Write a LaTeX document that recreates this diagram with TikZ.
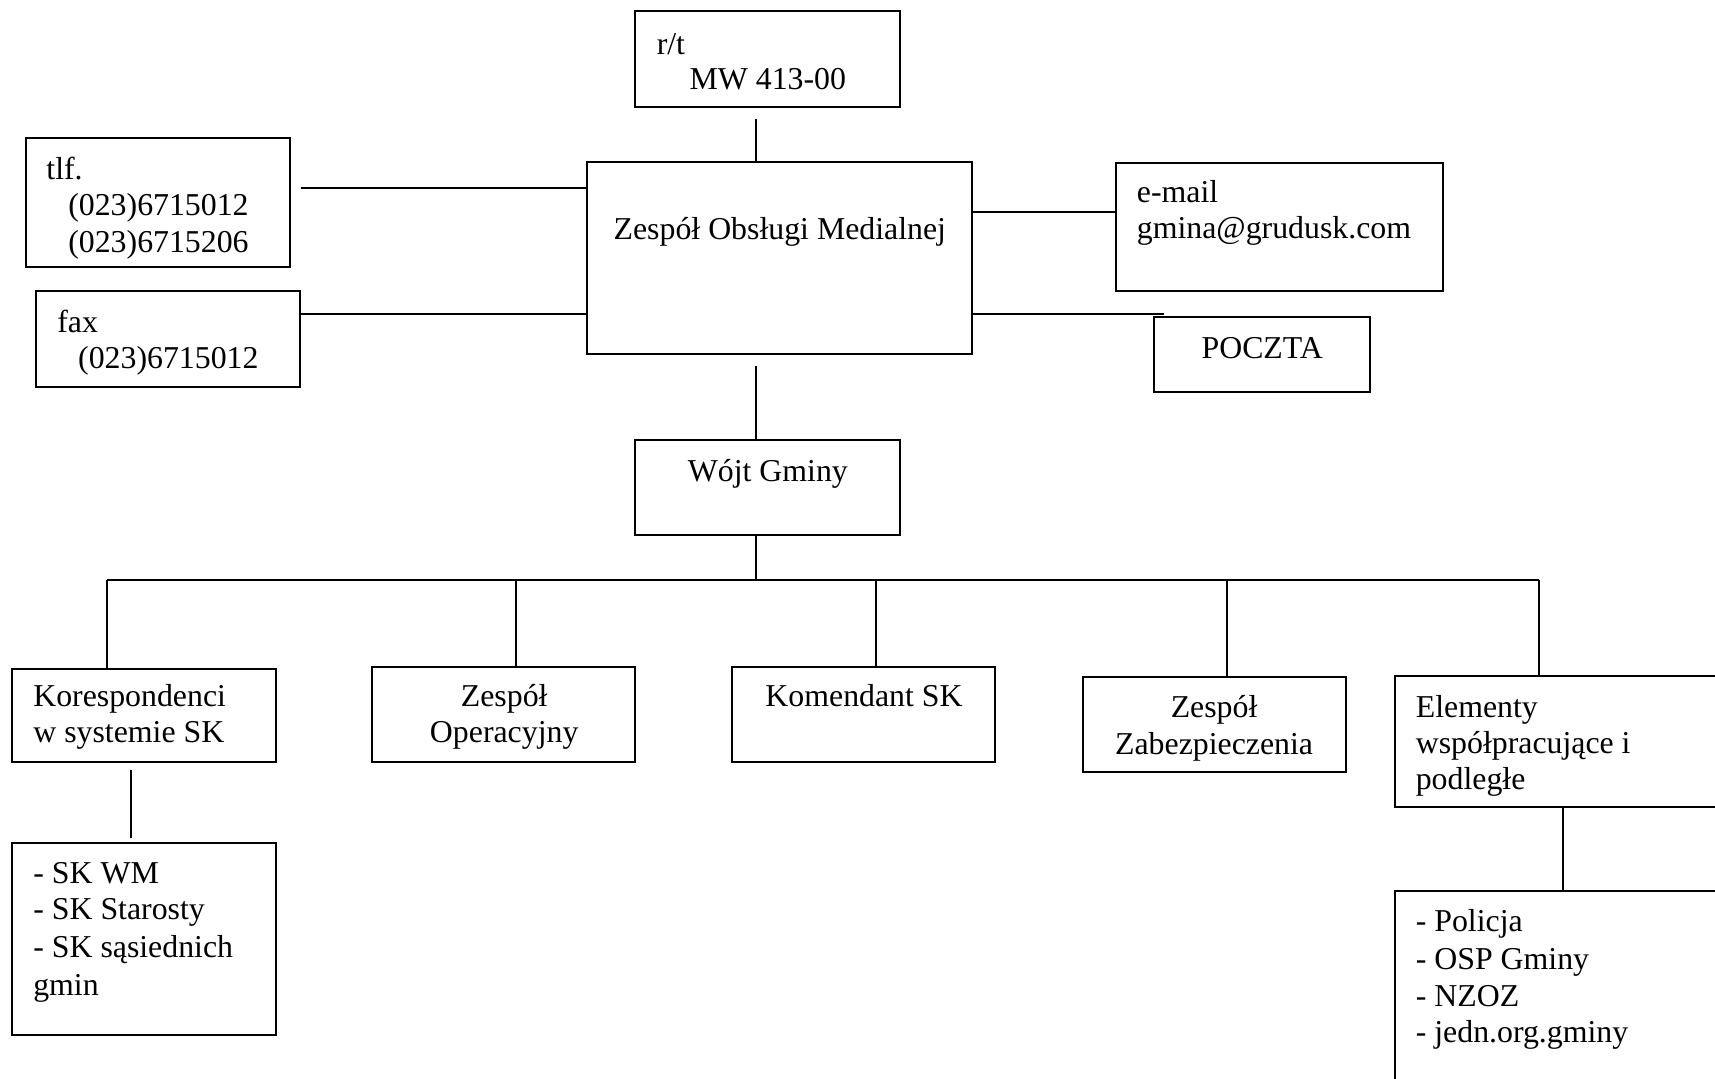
\documentclass[tikz,border=0pt]{standalone}
\usepackage{fontspec}
\setmainfont{Liberation Serif}
\usetikzlibrary{fit}
\begin{document}
\begin{tikzpicture}[x=0.433pt,y=-0.433pt,
  box/.style={draw, line width=0.8pt, inner sep=0pt},
  ln/.style={line width=0.6pt},
  busline/.style={line width=0.8pt},
  txt/.style={inner sep=0pt, anchor=base west, font=\fontsize{12.6pt}{14pt}\selectfont},
  ctxt/.style={inner sep=0pt, anchor=base, font=\fontsize{12.6pt}{14pt}\selectfont}]
\path[use as bounding box] (0,0) rectangle (1568,986);
\clip (0,0) rectangle (1568,986);

% boxes
\node[box, fit={(581,10) (823,98)}] (rt) {};
\node[box, fit={(537,148) (889,324)}] (zom) {};
\node[box, fit={(24,126) (265,244)}] (tlf) {};
\node[box, fit={(33,266) (274,354)}] (fax) {};
\node[box, fit={(1020,149) (1319,266)}] (mail) {};
\node[box, fit={(1055,290) (1253,358)}] (poczta) {};
\node[box, fit={(581,402) (823,489)}] (wojt) {};
\node[box, fit={(11,612) (252,697)}] (kor) {};
\node[box, fit={(340,610) (581,697)}] (oper) {};
\node[box, fit={(669,610) (910,697)}] (kom) {};
\node[box, fit={(990,619) (1231,706)}] (zab) {};
\node[box, fit={(1275,618) (1620,738)}] (el) {};
\node[box, fit={(11,771) (252,946)}] (list1) {};
\node[box, fit={(1275,815) (1620,1020)}] (list2) {};

% texts
\node[txt] (t1) at (600,50) {r/t};
\node[txt] (t2) at (630,82) {MW 413-00};
\node[ctxt] (t3) at (713,219) {Zespół Obsługi Medialnej};
\node[txt] (t4) at (42,164) {tlf.};
\node[txt] (t5) at (62,197) {(023)6715012};
\node[txt] (t6) at (62,231) {(023)6715206};
\node[txt] (t7) at (52,304) {fax};
\node[txt] (t8) at (71,337) {(023)6715012};
\node[txt] (t9) at (1039,185) {e-mail};
\node[txt] (t10) at (1039,218) {gmina@grudusk.com};
\node[ctxt] (t11) at (1154,328) {POCZTA};
\node[ctxt] (t12) at (702,440) {Wójt Gminy};
\node[txt] (t13) at (30,646) {Korespondenci};
\node[txt] (t14) at (30,679) {w systemie SK};
\node[ctxt] (t15) at (461,646) {Zespół};
\node[ctxt] (t16) at (461,679) {Operacyjny};
\node[ctxt] (t17) at (790,646) {Komendant SK};
\node[ctxt] (t18) at (1110,656) {Zespół};
\node[ctxt] (t19) at (1110,690) {Zabezpieczenia};
\node[txt] (t20) at (1294,656) {Elementy};
\node[txt] (t21) at (1294,689) {współpracujące i};
\node[txt] (t22) at (1294,722) {podległe};
\node[txt] (t23) at (30,808) {- SK WM};
\node[txt] (t24) at (30,841) {- SK Starosty};
\node[txt] (t25) at (30,875) {- SK sąsiednich};
\node[txt] (t26) at (30,910) {gmin};
\node[txt] (t27) at (1294,852) {- Policja};
\node[txt] (t28) at (1294,886) {- OSP Gminy};
\node[txt] (t29) at (1294,920) {- NZOZ};
\node[txt] (t30) at (1294,953) {- jedn.org.gminy};

% helper coordinates
\coordinate (ax) at (691,0);
\coordinate (ytlf) at (0,172);
\coordinate (yfax) at (0,287);
\coordinate (ymail) at (0,194);
\coordinate (b1) at (98,530);
\coordinate (b2) at (472,530);
\coordinate (b3) at (801,530);
\coordinate (b4) at (1122,530);
\coordinate (b5) at (1407,530);
\coordinate (bus) at (691,530);
\coordinate (xk) at (120,0);
\coordinate (xe) at (1429,0);

% connectors
\draw[ln] ([yshift=-4.3pt]rt.south -| ax) -- (zom.north -| ax);
\draw[ln] ([yshift=-4.3pt]zom.south -| ax) -- (wojt.north -| ax);
\draw[ln] (wojt.south -| ax) -- (bus);
\draw[ln] ([xshift=3.9pt]tlf.east |- ytlf) -- (zom.west |- ytlf);
\draw[ln] (fax.east |- yfax) -- (zom.west |- yfax);
\draw[ln] (zom.east |- ymail) -- (mail.west |- ymail);
\draw[ln] (zom.east |- yfax) -- ([xshift=4.3pt]poczta.west |- yfax);
\draw[busline] (b1) -- (b5);
\draw[ln] (b1) -- (kor.north -| b1);
\draw[ln] (b2) -- (oper.north -| b2);
\draw[ln] (b3) -- (kom.north -| b3);
\draw[ln] (b4) -- (zab.north -| b4);
\draw[ln] (b5) -- (el.north -| b5);
\draw[ln] ([yshift=-2.6pt]kor.south -| xk) -- ([yshift=1.7pt]list1.north -| xk);
\draw[ln] (el.south -| xe) -- (list2.north -| xe);
\end{tikzpicture}
\end{document}
